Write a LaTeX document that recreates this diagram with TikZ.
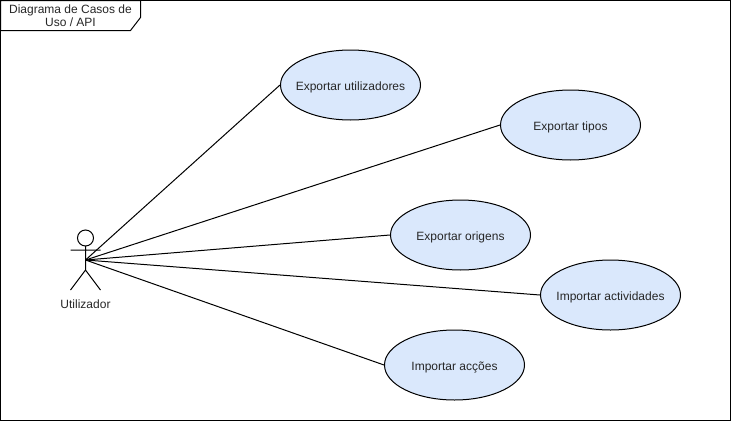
\documentclass[tikz,border=0pt]{standalone}
\usepackage{fontspec}
\setmainfont{Liberation Sans}
\usetikzlibrary{shapes.geometric}
\definecolor{usefill}{HTML}{DAE8FC}
\newcommand{\uselabel}[1]{\makebox[0pt][c]{#1}}
\tikzset{
  x=0.75pt, y=-0.75pt,
  line/.style={draw=black, line width=0.75pt},
  usecase/.style={ellipse, line, fill=usefill, minimum width=105pt, minimum height=52.5pt, inner sep=0pt, text height=7.5pt, text depth=0pt, font=\fontsize{9}{11}\selectfont, text=black!85},
  lbl/.style={font=\fontsize{9}{11}\selectfont, text=black!85, inner sep=0pt, align=center},
}
\begin{document}
\begin{tikzpicture}
\useasboundingbox (0,0) rectangle (732,421);
\draw[line] (0.5,0.5) rectangle (730.5,420.5);
\draw[line] (0.5,0.5) -- (140.5,0.5) -- (140.5,17.5) -- (130.5,30.5) -- (0.5,30.5) -- cycle;
\node[lbl, font=\fontsize{9}{9.75}\selectfont] (title) at (70.5,15.5) {Diagrama de Casos de\\Uso / API};
% actor
\draw[line] (85.5,238) circle[radius=8];
\coordinate (hub) at (85.5,260);
\draw[line] (85.5,246) -- (85.5,270) (70.5,250) -- (100.5,250)
  (70.5,290) -- (85.5,270) -- (100.5,290);
\node[lbl] (actor) at (85.5,304) {Utilizador};
% use cases
\node[usecase] (a) at (350.5,85) {\uselabel{Exportar utilizadores}};
\node[usecase] (b) at (570.5,125) {\uselabel{Exportar tipos}};
\node[usecase] (c) at (460.5,235) {\uselabel{Exportar origens}};
\node[usecase] (d) at (610.5,295) {\uselabel{Importar actividades}};
\node[usecase] (e) at (454.5,365) {\uselabel{Importar acções}};
% connectors
\foreach \t in {a,b,c,d,e} \draw[line] (hub) -- (\t.west);
\end{tikzpicture}
\end{document}
